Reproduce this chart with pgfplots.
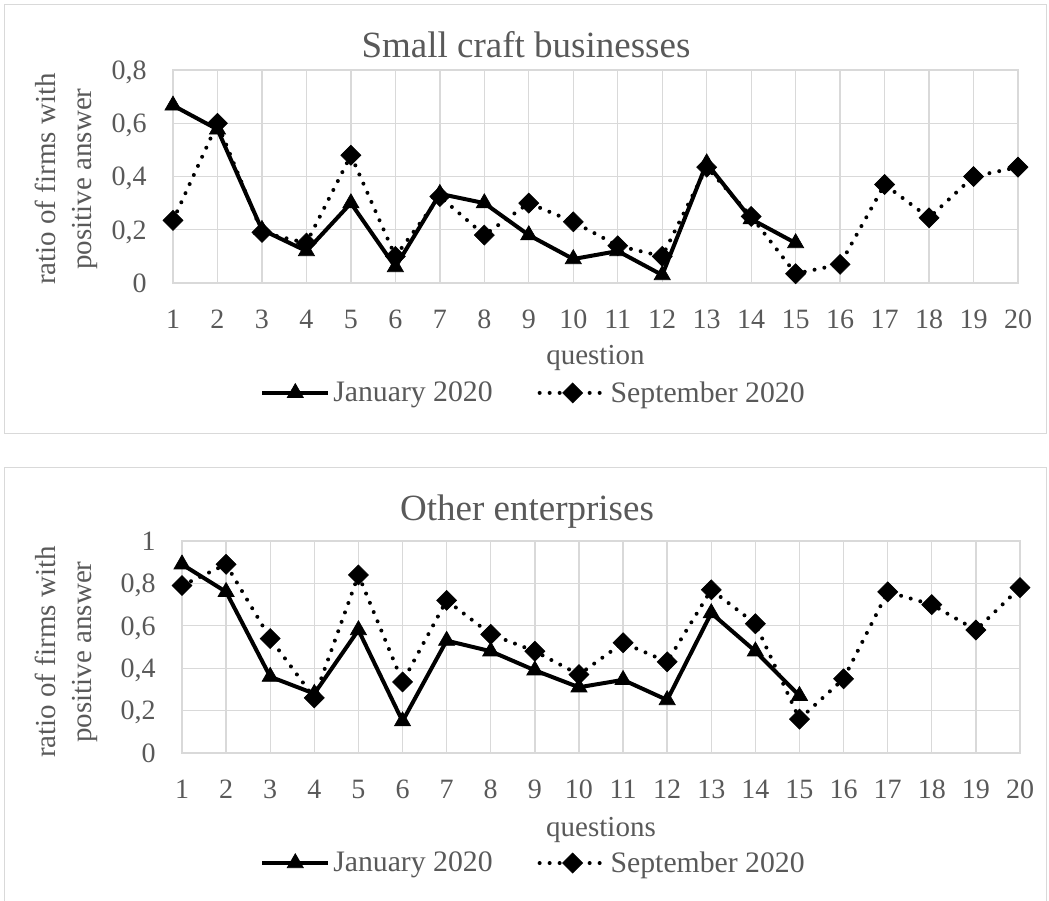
\documentclass[border=0pt]{standalone}
\usepackage{fontspec}
\setmainfont{Liberation Serif}
\usepackage{pgfplots}
\pgfplotsset{compat=1.18}

\definecolor{txt}{HTML}{595959}
\definecolor{grd}{HTML}{D9D9D9}

\pgfplotsset{
  panel/.style={
    scale only axis, clip=false,
    xmin=1, xmax=20, ymin=0,
    xtick={1,...,20},
    grid=major,
    grid style={draw=grd, line width=1pt},
    axis line style={draw=grd, line width=1pt},
    major tick length=0pt,
    tick label style={font=\fontsize{21}{25}\selectfont, text=txt, inner sep=0pt},
    xticklabel style={anchor=north, yshift=-20.25pt},
    yticklabel style={anchor=base east, xshift=-19.5pt, yshift=-7pt},
    /pgf/number format/assume math mode=true,
    /pgf/number format/use comma,
    legend columns=2,
    legend style={draw=none, fill=none, inner sep=0pt, anchor=west,
      font=\fontsize{22.3}{26}\selectfont, text=txt,
      nodes={inner xsep=2.25pt, inner ysep=0pt},
      /tikz/every even column/.append style={column sep=31.5pt}},
    legend image code/.code={\draw[mark repeat=2, mark phase=2, ##1]
      plot coordinates {(0pt,0pt) (24.75pt,0pt) (49.5pt,0pt)};},
  },
  jan/.style={black, line width=3pt, mark=triangle*, mark size=7pt,
    mark options={line width=0.5pt}},
  sep/.style={black, line width=3pt, line cap=round, dash pattern=on 0pt off 7.5pt,
    mark=square*, mark size=5.3pt, mark options={solid, rotate=45, line width=0.5pt}},
}

\begin{document}
\begin{tikzpicture}
\useasboundingbox (0pt,0pt) rectangle (786.75pt,-675pt);

% panel frames
\draw[grd, line width=0.75pt] (3pt,-3pt) rectangle (784.5pt,-324.75pt);
\draw[grd, line width=0.75pt] (3pt,-350.25pt) rectangle (784.5pt,-690pt);

% top: small craft businesses
\begin{axis}[panel,
  at={(129.75pt,-212.25pt)}, anchor=south west,
  width=633.75pt, height=159.75pt,
  ymax=0.8, ytick={0,0.2,0.4,0.6,0.8},
  legend style={at={(0.103,-0.516)}},
]
\addplot[jan] coordinates {
  (1,0.667) (2,0.577) (3,0.2) (4,0.12) (5,0.3) (6,0.06) (7,0.335) (8,0.3)
  (9,0.18) (10,0.09) (11,0.12) (12,0.03) (13,0.45) (14,0.24) (15,0.15)
};
\addlegendentry{January 2020}
\addplot[sep] coordinates {
  (1,0.235) (2,0.6) (3,0.19) (4,0.15) (5,0.48) (6,0.1) (7,0.325) (8,0.18)
  (9,0.3) (10,0.23) (11,0.14) (12,0.1) (13,0.435) (14,0.25) (15,0.035)
  (16,0.07) (17,0.37) (18,0.245) (19,0.4) (20,0.435)
};
\addlegendentry{September 2020}
\end{axis}

% bottom: other enterprises
\begin{axis}[panel,
  at={(136.5pt,-564.75pt)}, anchor=south west,
  width=628.5pt, height=159pt,
  ymax=1, ytick={0,0.2,0.4,0.6,0.8,1},
  legend style={at={(0.0931,-0.519)}},
]
\addplot[jan] coordinates {
  (1,0.89) (2,0.76) (3,0.36) (4,0.28) (5,0.58) (6,0.15) (7,0.53) (8,0.48)
  (9,0.39) (10,0.31) (11,0.345) (12,0.25) (13,0.66) (14,0.48) (15,0.27)
};
\addlegendentry{January 2020}
\addplot[sep] coordinates {
  (1,0.79) (2,0.89) (3,0.54) (4,0.26) (5,0.84) (6,0.335) (7,0.72) (8,0.56)
  (9,0.48) (10,0.37) (11,0.52) (12,0.43) (13,0.77) (14,0.61) (15,0.16)
  (16,0.35) (17,0.76) (18,0.70) (19,0.58) (20,0.78)
};
\addlegendentry{September 2020}
\end{axis}

% titles and axis labels
\begin{scope}[every node/.style={text=txt, inner sep=0pt}]
\node[anchor=base, font=\fontsize{27.75}{32}\selectfont] at (394.5pt,-42.75pt) {Small craft businesses};
\node[anchor=base, font=\fontsize{27.75}{32}\selectfont] at (395.25pt,-390pt) {Other enterprises};
\node[anchor=base, font=\fontsize{21.75}{26}\selectfont] at (446.6pt,-273pt) {question};
\node[anchor=base, font=\fontsize{21.75}{26}\selectfont] at (450.75pt,-627pt) {questions};
\node[rotate=90, align=center, font=\fontsize{21.75}{27}\selectfont] at (49.5pt,-134.25pt)
  {ratio of firms with\\positive answer};
\node[rotate=90, align=center, font=\fontsize{21.75}{27}\selectfont] at (49.5pt,-489pt)
  {ratio of firms with\\positive answer};
\end{scope}
\end{tikzpicture}
\end{document}
